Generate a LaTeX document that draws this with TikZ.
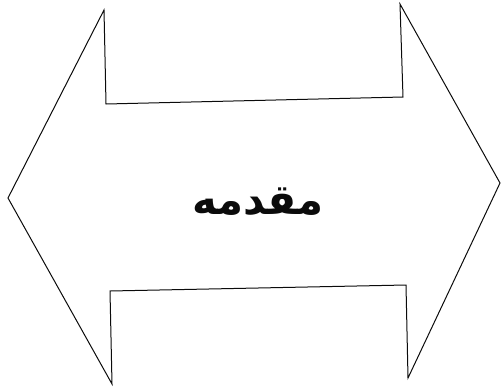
\documentclass[tikz,border=0pt]{standalone}
\usepackage{fontspec}
\usepackage{tikz}
\TeXXeTstate=1
\newfontfamily\arabicfont[Script=Arabic]{DejaVu Sans}
\definecolor{ink}{HTML}{0B0B0B}

\begin{document}
\begin{tikzpicture}[x=1pt,y=-1pt]
  \useasboundingbox (0,0) rectangle (501,389);
  % double arrow outline
  \draw[ink,line width=1pt,line join=miter] (8,198) -- (104,10) -- (106,104) -- (403,97) -- (400,4) -- (500,183)
    -- (408,378) -- (406,285) -- (110,291) -- (112,384) -- cycle;
  \node[ink,font=\arabicfont\bfseries\fontsize{42}{50}\selectfont] (title) at (258,202) {\beginR مقدمه\endR};
\end{tikzpicture}
\end{document}
